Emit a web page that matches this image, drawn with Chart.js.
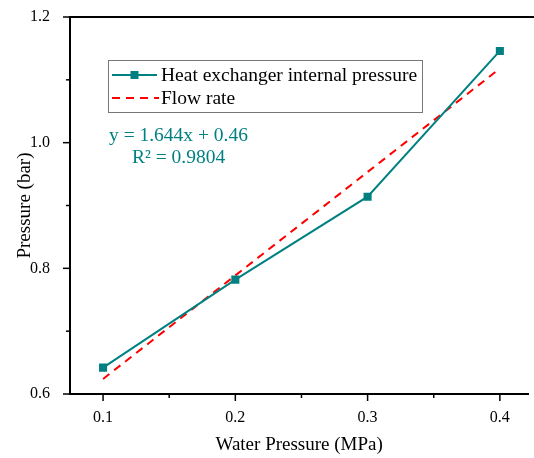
<!DOCTYPE html>
<html><head><meta charset="utf-8">
<script src="https://cdn.jsdelivr.net/npm/chart.js@4/dist/chart.umd.min.js"></script>
<style>html,body{margin:0;padding:0;overflow:hidden;background:#fff;width:534px;height:458px}</style>
</head><body>
<canvas id="c" width="534" height="458" style="width:534px;height:458px;display:block"></canvas>
<script>
const xValues = [0.1, 0.2, 0.3, 0.4];
const pressureValues = [0.642, 0.782, 0.914, 1.146];
const fitX = [0.1, 0.4];
const fitY = [0.624, 1.118];
const xMajor = [0.1, 0.2, 0.3, 0.4];
const xMinor = [0.15, 0.25, 0.35];
const yMajor = [0.6, 0.8, 1.0, 1.2];
const yMinor = [0.7, 0.9, 1.1];
const seriesLabels = ['Heat exchanger internal pressure', 'Flow rate'];
const equationLines = ['y = 1.644x + 0.46', 'R\u00b2 = 0.9804'];
const xTitle = 'Water Pressure (MPa)';
const yTitle = 'Pressure (bar)';

const FONT = '"Liberation Serif","Times New Roman",serif';
const TEAL = '#008080';
const RED = '#ff0000';

const decor = {
  id: 'decor',
  afterDraw(chart) {
    const ctx = chart.ctx, a = chart.chartArea;
    const xs = chart.scales.x, ys = chart.scales.y;
    ctx.save();
    ctx.strokeStyle = '#000';
    ctx.lineWidth = 2;
    ctx.beginPath(); ctx.moveTo(a.left - 1, a.top); ctx.lineTo(chart.width, a.top); ctx.stroke();
    ctx.lineWidth = 1.5;
    const tick = (vals, len, horiz) => {
      vals.forEach(v => {
        ctx.beginPath();
        if (horiz) { const p = xs.getPixelForValue(v); ctx.moveTo(p, a.bottom); ctx.lineTo(p, a.bottom + len); }
        else { const p = ys.getPixelForValue(v); ctx.moveTo(a.left, p); ctx.lineTo(a.left - len, p); }
        ctx.stroke();
      });
    };
    tick(xMajor, 7, true); tick(xMinor, 4, true);
    tick(yMajor, 7, false); tick(yMinor, 4, false);
    const lx = 108, ly = 60, lw = 314, lh = 52;
    ctx.strokeStyle = '#777'; ctx.lineWidth = 1;
    ctx.strokeRect(lx + 0.5, ly + 0.5, lw, lh);
    const rows = [ly + 15, ly + 38];
    ctx.lineWidth = 2;
    ctx.strokeStyle = TEAL;
    ctx.beginPath(); ctx.moveTo(lx + 4, rows[0]); ctx.lineTo(lx + 49, rows[0]); ctx.stroke();
    ctx.fillStyle = TEAL; ctx.fillRect(lx + 26.5 - 4, rows[0] - 4, 8, 8);
    ctx.strokeStyle = RED; ctx.setLineDash([8, 6]);
    ctx.beginPath(); ctx.moveTo(lx + 4, rows[1]); ctx.lineTo(lx + 51, rows[1]); ctx.stroke();
    ctx.setLineDash([]);
    ctx.fillStyle = '#000'; ctx.font = '19.5px ' + FONT; ctx.textBaseline = 'middle'; ctx.textAlign = 'left';
    ctx.fillText(seriesLabels[0], lx + 53, rows[0] + 1);
    ctx.fillText(seriesLabels[1], lx + 53, rows[1] + 1);
    ctx.fillStyle = TEAL;
    ctx.fillText(equationLines[0], 109, 136);
    ctx.fillText(equationLines[1], 132, 158);
    ctx.restore();
  }
};

new Chart(document.getElementById('c'), {
  type: 'scatter',
  data: {
    datasets: [
      {
        label: seriesLabels[0],
        data: xValues.map((x, i) => ({ x, y: pressureValues[i] })),
        showLine: true, borderColor: TEAL, backgroundColor: TEAL, borderWidth: 2,
        pointStyle: 'rect', pointRadius: 5.7, pointBorderWidth: 0, order: 1
      },
      {
        label: seriesLabels[1],
        data: fitX.map((x, i) => ({ x, y: fitY[i] })),
        showLine: true, borderColor: RED, borderWidth: 2, borderDash: [8, 6],
        pointRadius: 0, order: 2
      }
    ]
  },
  options: {
    responsive: false, animation: false, devicePixelRatio: 1,
    layout: { padding: { top: 17, right: 0, left: 0, bottom: 0 } },
    plugins: { legend: { display: false }, tooltip: { enabled: false } },
    scales: {
      x: {
        type: 'linear', min: 0.075, max: 0.4215,
        afterBuildTicks: s => { s.ticks = xMajor.map(v => ({ value: v })); },
        afterFit: s => { s.height = 64; s.paddingLeft = 0; s.paddingRight = 0; },
        grid: { display: false },
        border: { display: true, color: '#000', width: 2 },
        ticks: { color: '#000', font: { family: FONT, size: 16 }, padding: 6, callback: v => v.toFixed(1) },
        title: { display: true, text: xTitle, color: '#000', font: { family: FONT, size: 19 }, padding: { top: 0, bottom: 2 } }
      },
      y: {
        type: 'linear', min: 0.6, max: 1.2,
        afterBuildTicks: s => { s.ticks = yMajor.map(v => ({ value: v })); },
        afterFit: s => { s.width = 70; s.paddingTop = 0; s.paddingBottom = 0; },
        grid: { display: false },
        border: { display: true, color: '#000', width: 2 },
        ticks: { color: '#000', font: { family: FONT, size: 16 }, padding: 12, callback: v => v.toFixed(1) },
        title: { display: true, text: yTitle, color: '#000', font: { family: FONT, size: 19 }, padding: { top: 14, bottom: 0 } }
      }
    }
  },
  plugins: [decor]
});
</script>
</body></html>
